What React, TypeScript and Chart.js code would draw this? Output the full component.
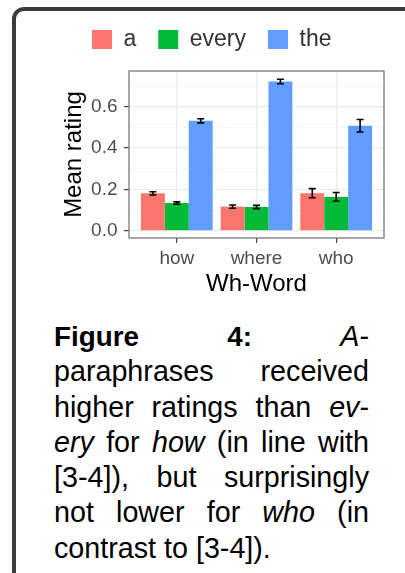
import React, { useEffect, useRef } from 'react';
import { Chart, registerables } from 'chart.js';

Chart.register(...registerables);

// ---- data ----
const categories = ['how', 'where', 'who'];
const seriesNames = ['a', 'every', 'the'];
const seriesColors = ['#F8766D', '#00BA38', '#619CFF'];
const aMeans = [0.181, 0.117, 0.182];
const everyMeans = [0.134, 0.115, 0.164];
const theMeans = [0.532, 0.722, 0.508];
const aErrors = [0.008, 0.008, 0.022];
const everyErrors = [0.006, 0.008, 0.021];
const theErrors = [0.01, 0.011, 0.03];
const yTickValues = [0, 0.1, 0.2, 0.3, 0.4, 0.5, 0.6, 0.7];
const yTickLabels = ['0.0', '', '0.2', '', '0.4', '', '0.6', ''];
const yRange = [-0.035, 0.773];
const xRange = [-0.6, 2.6];

const seriesMeans = [aMeans, everyMeans, theMeans];
const seriesErrors = [aErrors, everyErrors, theErrors];

const FONT = "'Liberation Sans', Arial, Helvetica, sans-serif";

const errorBarPlugin = {
  id: 'errorBars',
  afterDatasetsDraw(chart: any) {
    const ctx = chart.ctx;
    const yScale = chart.scales.y;
    ctx.save();
    ctx.strokeStyle = '#000';
    ctx.lineWidth = 1.6;
    seriesMeans.forEach((means, di) => {
      const meta = chart.getDatasetMeta(di);
      meta.data.forEach((bar: any, j: number) => {
        const v = means[j];
        const e = seriesErrors[di][j];
        const yHi = yScale.getPixelForValue(v + e);
        const yLo = yScale.getPixelForValue(v - e);
        const x = bar.x;
        const cap = 3.5;
        ctx.beginPath();
        ctx.moveTo(x, yHi);
        ctx.lineTo(x, yLo);
        ctx.moveTo(x - cap, yHi);
        ctx.lineTo(x + cap, yHi);
        ctx.moveTo(x - cap, yLo);
        ctx.lineTo(x + cap, yLo);
        ctx.stroke();
      });
    });
    ctx.restore();
  },
};

const panelBorderPlugin = {
  id: 'panelBorder',
  afterDatasetsDraw(chart: any) {
    const { ctx, chartArea } = chart;
    ctx.save();
    ctx.strokeStyle = '#7a7a7a';
    ctx.lineWidth = 1.3;
    ctx.strokeRect(chartArea.left, chartArea.top, chartArea.right - chartArea.left, chartArea.bottom - chartArea.top);
    ctx.restore();
  },
};

function BarChart() {
  const ref = useRef<HTMLCanvasElement | null>(null);
  useEffect(() => {
    if (!ref.current) return;
    const chart = new Chart(ref.current, {
      type: 'bar',
      data: {
        datasets: seriesNames.map((name, di) => ({
          label: name,
          data: categories.map((_, i) => ({ x: i, y: seriesMeans[di][i] })),
          backgroundColor: seriesColors[di],
          borderWidth: 0,
          categoryPercentage: 0.9,
          barPercentage: 1,
        })),
      },
      options: {
        animation: false,
        responsive: false,
        events: [],
        layout: { padding: { left: 39.5, right: 21, top: 6, bottom: 0 } },
        plugins: {
          tooltip: { enabled: false },
          title: {
            display: true,
            text: '',
            position: 'top',
            weight: 500,
            font: { size: 1 },
            padding: { top: 0, bottom: 8.8 },
          },
          legend: {
            display: true,
            position: 'top',
            labels: {
              boxWidth: 20,
              boxHeight: 19,
              padding: 22,
              color: '#333',
              font: { family: FONT, size: 23 },
            },
          },
        },
        scales: {
          x: {
            type: 'linear',
            min: xRange[0],
            max: xRange[1],
            offset: false,
            afterBuildTicks: (scale: any) => {
              scale.ticks = categories.map((_, i) => ({ value: i }));
            },
            afterFit: (scale: any) => {
              scale.height = 62;
            },
            ticks: {
              callback: (v: any) => categories[v] ?? '',
              color: '#4d4d4d',
              padding: 4,
              maxRotation: 0,
              autoSkip: false,
              font: { family: FONT, size: 19 },
            },
            grid: {
              offset: false,
              color: '#ebebeb',
              lineWidth: 1.2,
              tickColor: '#444',
              tickLength: 5,
              tickWidth: 1.2,
            },
            border: { display: false },
            title: {
              display: true,
              text: 'Wh-Word',
              color: '#000',
              font: { family: FONT, size: 24 },
              padding: { top: 0, bottom: 1.3 },
            },
          },
          y: {
            type: 'linear',
            min: yRange[0],
            max: yRange[1],
            afterBuildTicks: (scale: any) => {
              scale.ticks = yTickValues.map((v) => ({ value: v }));
            },
            afterFit: (scale: any) => {
              scale.width = 89.5;
            },
            ticks: {
              callback: (_v: any, i: number) => yTickLabels[i],
              color: '#4d4d4d',
              padding: 6.5,
              autoSkip: false,
              font: { family: FONT, size: 19 },
            },
            grid: {
              color: (c: any) => (c.index % 2 === 0 ? '#ebebeb' : '#f4f4f4'),
              lineWidth: (c: any) => (c.index % 2 === 0 ? 1.2 : 0.9),
              tickColor: (c: any) => (c.index % 2 === 0 ? '#444' : 'rgba(0,0,0,0)'),
              tickLength: 5,
              tickWidth: 1.2,
            },
            border: { display: false },
            title: {
              display: true,
              text: 'Mean rating',
              color: '#000',
              font: { family: FONT, size: 24 },
              padding: { top: 20.7, bottom: 0 },
            },
          },
        },
      },
      plugins: [errorBarPlugin, panelBorderPlugin],
    } as any);
    return () => chart.destroy();
  }, []);
  return <canvas ref={ref} width={405} height={300} style={{ position: 'absolute', left: 0, top: 0, width: 405, height: 300 }} />;
}

const lineStyle: React.CSSProperties = { textAlign: 'justify', textAlignLast: 'justify' as any };

export default function App() {
  return (
    <div style={{ position: 'fixed', inset: 0, overflow: 'hidden', background: '#fff' }}>
      <div
        style={{
          position: 'absolute',
          left: 12,
          top: 7,
          width: 430,
          height: 620,
          border: '4px solid #3c3c3c',
          borderRadius: 12,
          boxSizing: 'border-box',
        }}
      />
      <BarChart />
      <div
        style={{
          position: 'absolute',
          left: 54,
          top: 319,
          width: 315,
          fontFamily: FONT,
          fontSize: 28.7,
          lineHeight: '35.3px',
          color: '#000',
        }}
      >
        <div style={lineStyle}><b style={{ fontSize: 27.8 }}>Figure</b> <b style={{ fontSize: 27.8 }}>4:</b> <i>A</i>-</div>
        <div style={lineStyle}>paraphrases received</div>
        <div style={lineStyle}>higher ratings than <i>ev</i>-</div>
        <div style={lineStyle}><i>ery</i> for <i>how</i> (in line with</div>
        <div style={lineStyle}>[3-4]), but surprisingly</div>
        <div style={lineStyle}>not lower for <i>who</i> (in</div>
        <div style={{ textAlign: 'left' }}>contrast to [3-4]).</div>
      </div>
    </div>
  );
}
